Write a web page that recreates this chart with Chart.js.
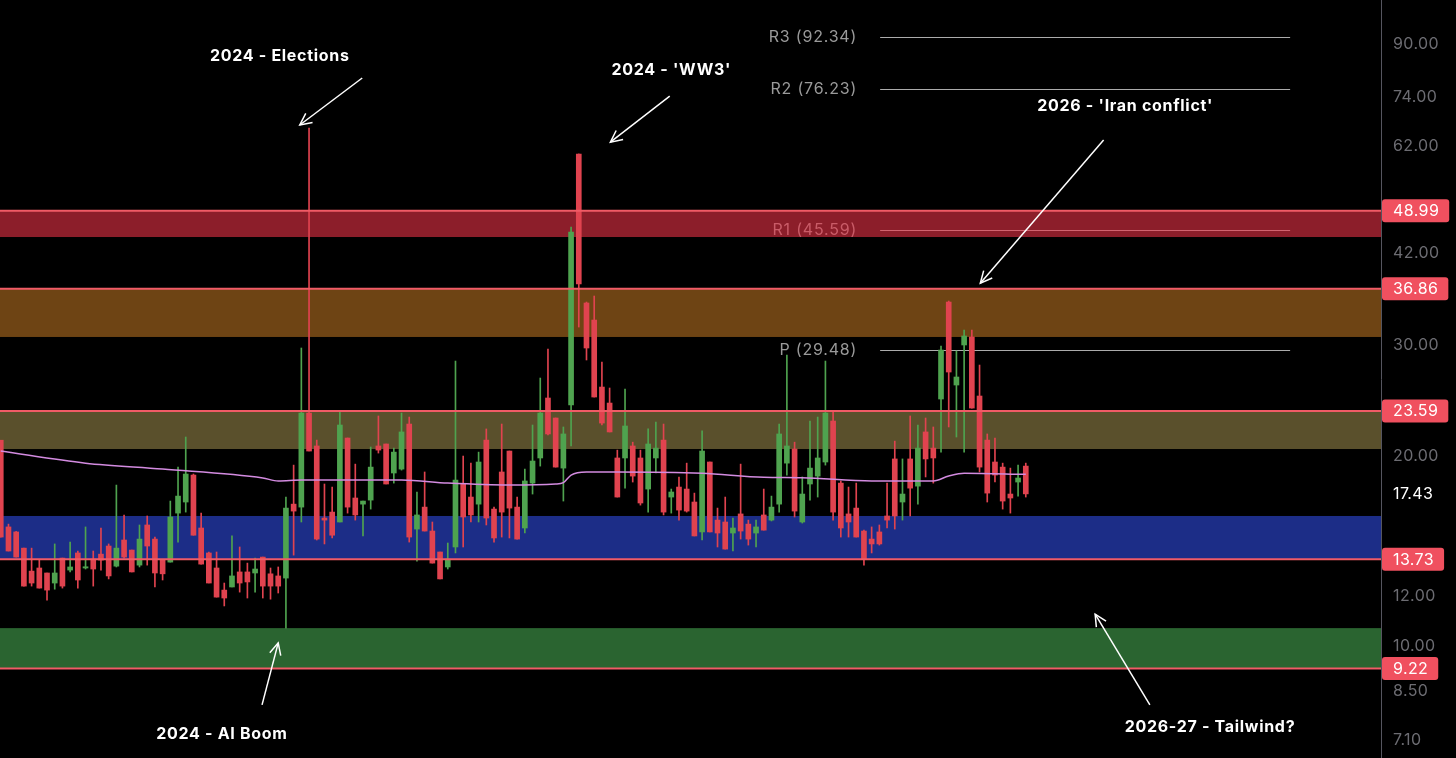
<!DOCTYPE html>
<html lang="en">
<head>
    <meta charset="utf-8">
    <title>VIX levels</title>
    <script src="https://cdn.jsdelivr.net/npm/chart.js"></script>
    <style>
        html, body { margin: 0; padding: 0; background: #000; }
        #wrap { width: 1456px; height: 758px; position: relative; }
    </style>
</head>
<body>
<div id="wrap"><canvas id="vixChart"></canvas></div>
<script>
    // candles, left to right
    const opens = [21.2, 15.45, 15.17, 14.30, 13.15, 13.30, 13.06, 12.59, 13.79, 13.20,
        14.05, 13.30, 13.74, 13.99, 14.41, 13.39, 14.73, 14.20, 13.44, 15.56,
        14.78, 13.69, 13.59, 16.25, 16.92, 18.67, 15.39, 14.05, 13.30, 12.27,
        12.41, 13.11, 13.11, 13.06, 13.84, 13.02, 12.92, 12.82, 16.79, 16.61,
        23.41, 20.76, 15.96, 16.31, 15.73, 21.37, 17.17, 16.79, 17.04, 20.76,
        20.91, 18.81, 19.08, 22.49, 15.33, 16.61, 15.22, 14.10, 13.35, 14.36,
        18.07, 17.23, 16.79, 21.21, 16.49, 18.88, 20.38, 16.61, 15.39, 18.13,
        19.87, 24.73, 22.99, 19.15, 24.11, 60.25, 34.98, 32.87, 25.74, 24.28,
        19.87, 19.87, 20.76, 19.87, 17.74, 19.87, 21.21, 17.23, 17.87, 17.74,
        16.92, 15.17, 19.58, 15.84, 15.73, 15.11, 16.20, 15.61, 15.11, 16.14,
        15.84, 16.79, 19.50, 20.53, 15.73, 18.07, 18.60, 19.58, 22.74, 18.13,
        16.20, 16.55, 15.22, 14.78, 15.17, 16.08, 19.80, 16.92, 19.80, 17.93,
        21.85, 20.60, 24.64, 35.10, 25.93, 30.01, 30.90, 24.91, 21.21, 19.58,
        19.22, 17.42, 18.20, 19.29];
    const highs = [21.2, 15.61, 15.2, 14.30, 14.30, 13.69, 13.06, 14.52, 13.79, 14.62,
        14.15, 15.45, 14.15, 15.39, 14.52, 18.00, 16.14, 14.20, 15.56, 16.08,
        14.89, 13.69, 16.98, 19.22, 21.45, 18.74, 16.25, 14.10, 14.10, 12.59,
        14.95, 14.36, 13.54, 13.79, 13.84, 13.30, 13.35, 17.23, 19.36, 29.68,
        66.2, 21.21, 18.07, 17.87, 23.58, 21.37, 19.43, 16.98, 20.68, 23.16,
        20.91, 20.60, 23.41, 23.07, 17.55, 18.88, 15.73, 14.10, 14.57, 28.30,
        20.01, 19.50, 20.30, 22.09, 16.61, 22.49, 20.38, 17.23, 19.08, 22.41,
        26.60, 29.57, 22.99, 22.25, 46.15, 60.25, 35.1, 35.88, 28.20, 25.65,
        20.45, 25.55, 21.05, 20.45, 22.09, 22.66, 22.49, 17.74, 18.54, 19.50,
        17.48, 21.93, 19.58, 16.55, 17.23, 15.96, 19.43, 15.84, 15.84, 17.74,
        17.29, 22.49, 28.93, 21.05, 18.54, 22.74, 23.07, 28.30, 23.58, 18.27,
        17.87, 18.13, 15.27, 15.45, 15.56, 18.13, 21.13, 19.80, 23.16, 22.41,
        22.99, 22.25, 29.90, 35.23, 29.36, 31.70, 31.70, 27.89, 21.69, 21.37,
        19.50, 19.15, 19.36, 19.50];
    const lows = [14.89, 14.15, 13.84, 12.45, 12.45, 12.36, 11.83, 12.31, 12.36, 13.11,
        12.36, 13.25, 12.45, 13.20, 12.78, 13.35, 13.79, 13.11, 13.35, 13.44,
        12.41, 12.73, 13.59, 14.62, 16.31, 14.99, 13.49, 12.59, 11.96, 11.58,
        12.41, 12.18, 11.92, 12.18, 11.92, 11.87, 12.14, 10.68, 13.94, 15.73,
        20.38, 14.73, 14.52, 14.84, 15.73, 16.25, 15.84, 14.95, 16.49, 20.23,
        18.07, 18.13, 19.01, 14.62, 13.64, 15.22, 13.54, 12.78, 13.25, 14.05,
        14.36, 15.73, 15.73, 15.56, 14.62, 14.89, 14.84, 14.78, 15.11, 17.42,
        19.29, 21.61, 19.22, 16.98, 20.76, 32.04, 28.41, 24.82, 22.41, 21.85,
        17.23, 17.80, 18.20, 16.73, 16.31, 18.81, 16.14, 16.25, 15.84, 16.31,
        14.95, 14.73, 15.17, 14.36, 14.25, 14.15, 14.78, 14.46, 14.36, 15.27,
        15.79, 16.31, 18.67, 16.02, 15.67, 17.04, 17.23, 19.36, 15.84, 14.89,
        14.89, 14.89, 13.44, 14.05, 14.46, 15.39, 15.33, 15.84, 16.08, 16.79,
        18.54, 18.13, 20.30, 22.25, 21.45, 20.30, 23.84, 18.88, 16.92, 18.20,
        16.49, 16.25, 17.29, 17.23];
    const closes = [14.89, 14.15, 13.84, 12.45, 12.59, 12.36, 12.27, 13.06, 12.45, 13.35,
        12.73, 13.36, 13.25, 13.69, 12.92, 14.30, 13.84, 13.11, 14.78, 14.41,
        13.06, 13.02, 16.02, 17.29, 18.74, 14.99, 13.49, 12.59, 11.96, 11.92,
        12.92, 12.59, 12.64, 13.25, 12.45, 12.45, 12.45, 16.55, 16.37, 23.41,
        20.38, 14.78, 15.84, 14.99, 22.41, 16.61, 16.14, 16.98, 19.22, 20.45,
        18.07, 20.30, 21.85, 14.89, 16.14, 15.22, 13.54, 12.78, 13.74, 18.33,
        16.02, 16.14, 19.58, 15.96, 14.84, 16.31, 16.55, 14.78, 18.27, 19.65,
        23.41, 21.69, 19.22, 21.69, 45.32, 37.49, 29.68, 24.82, 22.57, 21.85,
        17.23, 22.33, 18.60, 16.86, 20.91, 20.60, 16.31, 17.55, 16.43, 16.37,
        14.95, 20.38, 15.17, 15.11, 14.25, 15.39, 15.22, 14.78, 15.45, 15.27,
        16.61, 21.69, 20.76, 16.37, 17.42, 19.15, 19.87, 23.41, 16.31, 15.39,
        15.73, 14.89, 13.74, 14.52, 14.52, 15.84, 16.08, 17.42, 17.80, 20.60,
        19.80, 19.87, 29.46, 27.19, 26.70, 31.01, 23.84, 19.22, 17.48, 18.67,
        16.98, 17.17, 18.47, 17.43];
    const lastPrice = 17.43;

    // moving average, sampled at these candles
    const maIndex = [0, 11, 21, 34, 36, 39, 52, 58, 66, 72, 73, 74, 76, 80, 91, 99, 104, 113, 121, 123, 125, 133];
    const maValues = [20.38, 19.50, 19.08, 18.47, 18.27, 18.33, 18.33, 18.13, 18.00, 18.07, 18.16, 18.67, 18.88, 18.88, 18.79, 18.52, 18.49, 18.27, 18.27, 18.60, 18.79, 18.72];

    // key levels and shaded zones
    const levels = [48.99, 36.86, 23.59, 13.73, 9.22];
    const zoneHigh = [48.99, 36.86, 23.59, 16.08, 10.68];
    const zoneLow = [44.5, 30.90, 20.53, 13.73, 9.22];
    const zoneColors = ['rgba(233,50,70,0.6)', 'rgba(183,113,33,0.6)', 'rgba(150,133,73,0.6)',
        'rgba(47,75,225,0.6)', 'rgba(70,167,80,0.6)'];

    // pivot points
    const pivotNames = ['R3', 'R2', 'R1', 'P'];
    const pivotValues = [92.34, 76.23, 45.59, 29.48];
    const pivotFrom = 114.1, pivotTo = 167.3;

    const tickValues = [90, 74, 62, 42, 30, 20, 12, 10, 8.5, 7.1];

    // notes: text centre, arrow start, arrow tip (candle index, price)
    const notes = [
        { text: "2024 - Elections", at: [36.2, 86.1], from: [46.9, 79.5], to: [38.8, 66.97] },
        { text: "2024 - 'WW3'", at: [87.0, 81.9], from: [86.8, 74.4], to: [79.1, 62.9] },
        { text: "2026 - 'Iran conflict'", at: [145.9, 71.8], from: [143.1, 63.4], to: [127.1, 37.6] },
        { text: "2024 - AI Boom", at: [28.7, 7.26], from: [33.9, 8.07], to: [36.0, 10.12] },
        { text: "2026-27 - Tailwind?", at: [156.9, 7.44], from: [149.1, 8.07], to: [142.0, 11.24] }
    ];

    const UP = '#4fa34f';
    const DOWN = '#e0434f';
    const LEVEL = '#f05b66';
    const BADGE = '#f0505f';

    const idx = opens.map((_, i) => i);
    const candleColor = ctx => closes[ctx.dataIndex] >= opens[ctx.dataIndex] ? UP : DOWN;

    function drawArrow(ctx, x1, y1, x2, y2) {
        ctx.beginPath();
        ctx.moveTo(x1, y1);
        ctx.lineTo(x2, y2);
        ctx.stroke();
        const a = Math.atan2(y2 - y1, x2 - x1), L = 13, s = 0.45;
        ctx.beginPath();
        ctx.moveTo(x2 - L * Math.cos(a - s), y2 - L * Math.sin(a - s));
        ctx.lineTo(x2, y2);
        ctx.lineTo(x2 - L * Math.cos(a + s), y2 - L * Math.sin(a + s));
        ctx.stroke();
    }

    const overlay = {
        id: 'overlay',
        beforeDatasetsDraw(chart) {
            const { ctx, chartArea: area, scales: { x, y } } = chart;
            ctx.save();
            // pivots
            ctx.font = '16px Inter';
            ctx.letterSpacing = '0.8px';
            ctx.textAlign = 'right';
            ctx.textBaseline = 'middle';
            const px1 = x.getPixelForValue(pivotFrom), px2 = x.getPixelForValue(pivotTo);
            pivotValues.forEach((v, i) => {
                const py = Math.round(y.getPixelForValue(v)) + 0.5;
                ctx.strokeStyle = '#acacac';
                ctx.lineWidth = 1;
                ctx.beginPath();
                ctx.moveTo(px1, py);
                ctx.lineTo(px2, py);
                ctx.stroke();
                ctx.fillStyle = '#9a9a9a';
                ctx.fillText(pivotNames[i] + ' (' + v.toFixed(2) + ')', px1 - 23, py);
            });
            // zones
            zoneHigh.forEach((hi, i) => {
                const top = y.getPixelForValue(hi), bot = y.getPixelForValue(zoneLow[i]);
                ctx.fillStyle = zoneColors[i];
                ctx.fillRect(area.left, top, area.right - area.left, bot - top);
            });
            ctx.restore();
        },
        afterDatasetsDraw(chart) {
            const { ctx, chartArea: area, scales: { x, y } } = chart;
            ctx.save();
            ctx.strokeStyle = LEVEL;
            ctx.lineWidth = 2;
            levels.forEach(v => {
                const py = y.getPixelForValue(v);
                ctx.beginPath();
                ctx.moveTo(area.left, py);
                ctx.lineTo(area.right, py);
                ctx.stroke();
            });
            // notes
            ctx.strokeStyle = '#ffffff';
            ctx.fillStyle = '#ffffff';
            ctx.lineWidth = 1.5;
            ctx.font = 'bold 16px Inter';
            ctx.letterSpacing = '0.7px';
            ctx.textAlign = 'center';
            ctx.textBaseline = 'middle';
            notes.forEach(n => {
                ctx.fillText(n.text, x.getPixelForValue(n.at[0]), y.getPixelForValue(n.at[1]));
                drawArrow(ctx, x.getPixelForValue(n.from[0]), y.getPixelForValue(n.from[1]),
                    x.getPixelForValue(n.to[0]), y.getPixelForValue(n.to[1]));
            });
            ctx.restore();
        },
        afterDraw(chart) {
            const { ctx, chartArea: area, scales: { y } } = chart;
            ctx.save();
            ctx.font = '16px Inter';
            ctx.letterSpacing = '0.4px';
            ctx.textAlign = 'left';
            ctx.textBaseline = 'middle';
            const lx = area.right + 12;
            ctx.fillStyle = '#6c6c72';
            tickValues.forEach(v => ctx.fillText(v.toFixed(2), lx, y.getPixelForValue(v)));
            ctx.fillStyle = '#ffffff';
            ctx.fillText(lastPrice.toFixed(2), lx, y.getPixelForValue(lastPrice));
            levels.forEach(v => {
                const py = y.getPixelForValue(v);
                const t = v.toFixed(2);
                const w = ctx.measureText(t).width + 21;
                ctx.fillStyle = BADGE;
                ctx.beginPath();
                ctx.roundRect(area.right + 1, py - 11.5, w, 23, 3);
                ctx.fill();
                ctx.fillStyle = '#ffffff';
                ctx.fillText(t, lx, py + 0.5);
            });
            ctx.restore();
        }
    };

    new Chart(document.getElementById('vixChart'), {
        type: 'bar',
        data: {
            datasets: [
                {
                    type: 'line',
                    data: maIndex.map((i, k) => ({ x: i, y: maValues[k] })),
                    borderColor: '#d38be0',
                    borderWidth: 1.5,
                    pointRadius: 0,
                    cubicInterpolationMode: 'monotone'
                },
                {
                    data: idx.map(i => ({ x: i, y: [opens[i], closes[i]] })),
                    backgroundColor: candleColor,
                    barThickness: 5,
                    minBarLength: 1,
                    grouped: false
                },
                {
                    data: idx.map(i => ({ x: i, y: [lows[i], highs[i]] })),
                    backgroundColor: candleColor,
                    barThickness: 1,
                    grouped: false
                }
            ]
        },
        options: {
            responsive: true,
            maintainAspectRatio: false,
            animation: false,
            layout: { padding: 0 },
            plugins: { legend: { display: false }, tooltip: { enabled: false } },
            scales: {
                x: { type: 'linear', min: -0.1, max: 179.09, offset: false, display: false },
                y: {
                    type: 'logarithmic',
                    position: 'right',
                    min: 6.649,
                    max: 105.67,
                    bounds: 'data',
                    grid: { display: false },
                    ticks: { display: false },
                    border: { display: true, color: '#55555f', width: 1 },
                    afterFit: s => { s.width = 75; }
                }
            }
        },
        plugins: [overlay]
    });
</script>
</body>
</html>
